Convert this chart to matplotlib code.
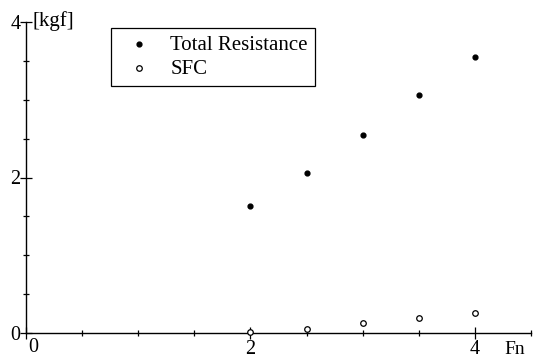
import matplotlib as mpl
from matplotlib import pyplot as plt

fn = [2.0, 2.5, 3.0, 3.5, 4.0]
total_resistance = [1.63, 2.06, 2.55, 3.06, 3.55]
sfc = [0.01, 0.05, 0.13, 0.19, 0.26]

x_major = [0, 2, 4]
x_minor = [0.5, 1, 1.5, 2.5, 3, 3.5, 4.5]
x_labels = ["", "2", "4"]
y_major = [0, 2, 4]
y_minor = [0.5, 1, 1.5, 2.5, 3, 3.5]
y_labels = ["0", "2", "4"]

mpl.rcParams["font.family"] = "Liberation Serif"
mpl.rcParams["font.size"] = 11

W, H = 535, 359
fig = plt.figure(figsize=(W / 100, H / 100), dpi=100)
ax = fig.add_axes([26 / W, 26 / H, 505 / W, 311 / H])

ax.scatter(fn, total_resistance, s=12, color="black", label="Total Resistance", zorder=3)
ax.scatter(fn, sfc, s=16, facecolors="white", edgecolors="black", linewidths=0.9,
           label="SFC", zorder=3, clip_on=False)

ax.set_xlim(0, 4.5)
ax.set_ylim(0, 4)
for side in ["top", "right"]:
    ax.spines[side].set_visible(False)
for side in ["left", "bottom"]:
    ax.spines[side].set_linewidth(1.0)

ax.set_xticks(x_major)
ax.set_xticklabels(x_labels)
ax.set_xticks(x_minor, minor=True)
ax.set_yticks(y_major)
ax.set_yticklabels(y_labels)
ax.set_yticks(y_minor, minor=True)
ax.tick_params(which="major", direction="inout", length=8, width=0.9, labelsize=14.5, pad=0)
ax.tick_params(which="minor", direction="inout", length=5, width=0.9)
ax.tick_params(axis="x", which="major", pad=1)

# origin label below, and axis names
fig.text(33 / W, 1 - 347 / H, "0", fontsize=14.5, ha="center", va="center")
fig.text(32 / W, 1 - 21 / H, "[kgf]", fontsize=15, ha="left", va="center")
fig.text(515 / W, 1 - 349 / H, "Fn", fontsize=14, ha="center", va="center")

leg = ax.legend(loc="upper left", bbox_to_anchor=(111 / W, 1 - 28 / H),
                bbox_transform=fig.transFigure, fancybox=False, framealpha=1,
                edgecolor="black", fontsize=15, borderpad=0.35, labelspacing=0.2,
                handletextpad=0.5, borderaxespad=0, scatterpoints=1)
leg.get_frame().set_linewidth(0.9)

fig.savefig("out.png", dpi=100)
